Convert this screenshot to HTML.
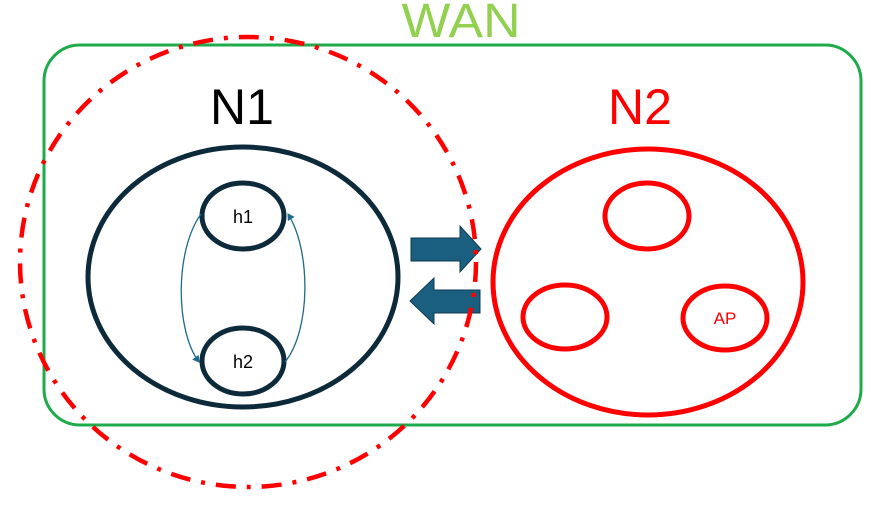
<!DOCTYPE html>
<html><head><style>html,body{margin:0;padding:0;background:#fff;}svg{display:block;}</style></head>
<body>
<svg width="875" height="509" viewBox="0 0 875 509" xmlns="http://www.w3.org/2000/svg">
<defs>
<marker id="ah" markerWidth="8" markerHeight="8" refX="6" refY="4" orient="auto" markerUnits="userSpaceOnUse"><path d="M0,0 L7,4 L0,8 z" fill="#1f6a8a"/></marker>
</defs>
<rect x="44" y="45" width="817" height="380" rx="36" fill="none" stroke="#1faa4b" stroke-width="3"/>
<text x="461" y="37" font-family="Liberation Sans, sans-serif" font-size="48" fill="#92d050" text-anchor="middle" textLength="119" lengthAdjust="spacingAndGlyphs">WAN</text>
<text x="242" y="124" font-family="Liberation Sans, sans-serif" font-size="50" fill="#000" text-anchor="middle">N1</text>
<text x="640" y="124" font-family="Liberation Sans, sans-serif" font-size="50" fill="#ff0000" text-anchor="middle">N2</text>
<ellipse cx="243" cy="277" rx="155" ry="130" fill="none" stroke="#0d2a3a" stroke-width="5"/>
<ellipse cx="243" cy="216" rx="41" ry="33" fill="#fff" stroke="#0d2a3a" stroke-width="5"/>
<ellipse cx="243" cy="361" rx="41" ry="33" fill="#fff" stroke="#0d2a3a" stroke-width="5"/>
<text x="243" y="223" font-family="Liberation Sans, sans-serif" font-size="18" text-anchor="middle">h1</text>
<text x="243" y="368" font-family="Liberation Sans, sans-serif" font-size="18" text-anchor="middle">h2</text>
<path d="M201,214 C175,250 175,330 199,362" fill="none" stroke="#1f6a8a" stroke-width="1.3" marker-end="url(#ah)"/>
<path d="M285,362 C311,330 311,250 288,214" fill="none" stroke="#1f6a8a" stroke-width="1.3" marker-end="url(#ah)"/>
<ellipse cx="648" cy="282" rx="155" ry="133" fill="none" stroke="#ff0000" stroke-width="5"/>
<ellipse cx="647" cy="216" rx="42" ry="33" fill="none" stroke="#ff0000" stroke-width="5"/>
<ellipse cx="565" cy="317" rx="42" ry="32" fill="none" stroke="#ff0000" stroke-width="5"/>
<ellipse cx="725" cy="318" rx="42" ry="32" fill="none" stroke="#ff0000" stroke-width="5"/>
<text x="725" y="324" font-family="Liberation Sans, sans-serif" font-size="17" fill="#ff0000" text-anchor="middle">AP</text>
<path d="M411,238 L460,238 L460,226 L481,249 L460,272 L460,261 L411,261 z" fill="#1a5f80" stroke="#0d3a50" stroke-width="1"/>
<path d="M480,290 L434,290 L434,278 L410,301 L434,324 L434,313 L480,313 z" fill="#1a5f80" stroke="#0d3a50" stroke-width="1"/>
<ellipse cx="248" cy="262" rx="228" ry="225" fill="none" stroke="#ff0000" stroke-width="4.5" stroke-dasharray="20 11 4 11"/>
</svg>
</body></html>
